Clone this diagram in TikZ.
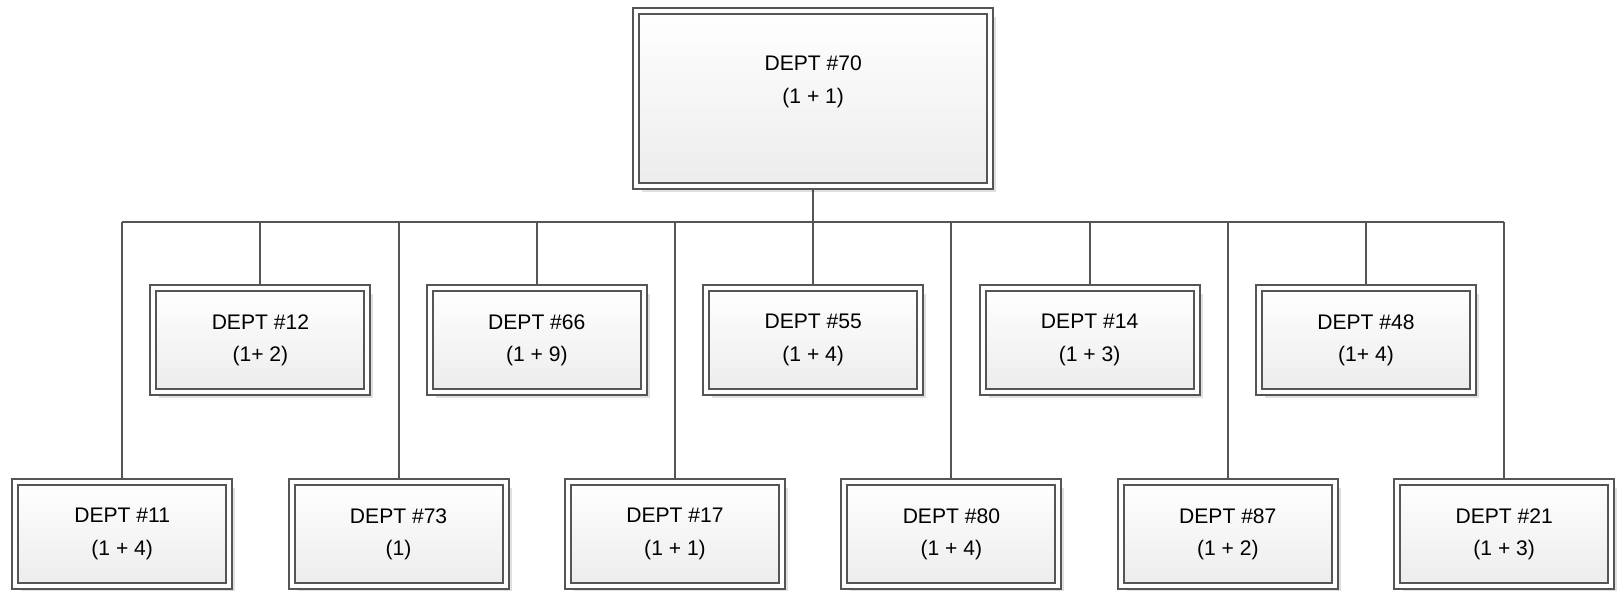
\documentclass[tikz,border=0pt]{standalone}
\usepackage{fontspec}
\setmainfont{Liberation Sans}
\usepackage{tikz}
\usetikzlibrary{shadows}
\usetikzlibrary{backgrounds}
\usetikzlibrary{calc}
\definecolor{boxline}{RGB}{85,85,85}
\definecolor{boxlow}{RGB}{236,236,236}
\tikzset{dept/.style={draw=boxline, line width=0.05cm, double=white, double distance=0.1cm, top color=white, bottom color=boxlow, drop shadow={shadow xshift=0.15cm, shadow yshift=-0.15cm, fill=black, opacity=0.12}, align=center, font=\fontsize{15}{23}\selectfont, minimum width=5.35cm, minimum height=2.62cm, inner sep=0pt},
link/.style={draw=boxline, line width=0.05cm}}

\begin{document}
\begin{tikzpicture}
    \useasboundingbox (0,0) rectangle (40.5,-14.75);
    \node (d70) [dept, minimum width=8.86cm, minimum height=4.36cm] at (20.33,-2.46) {DEPT \#70\\(1 + 1)\\[3.5pt]};
    \node (d55) [dept, below of=d70, node distance=6.04cm] {DEPT \#55\\(1 + 4)};
    \node (d66) [dept, left of=d55, node distance=6.91cm] {DEPT \#66\\(1 + 9)};
    \node (d12) [dept, left of=d66, node distance=6.91cm] {DEPT \#12\\(1+ 2)};
    \node (d14) [dept, right of=d55, node distance=6.91cm] {DEPT \#14\\(1 + 3)};
    \node (d48) [dept, right of=d14, node distance=6.91cm] {DEPT \#48\\(1+ 4)};

    \node (d17) [dept, below of=d55, node distance=4.85cm, xshift=-3.455cm] {DEPT \#17\\(1 + 1)};
    \node (d73) [dept, left of=d17, node distance=6.91cm] {DEPT \#73\\(1)};
    \node (d11) [dept, left of=d73, node distance=6.91cm] {DEPT \#11\\(1 + 4)};
    \node (d80) [dept, right of=d17, node distance=6.91cm] {DEPT \#80\\(1 + 4)};
    \node (d87) [dept, right of=d80, node distance=6.91cm] {DEPT \#87\\(1 + 2)};
    \node (d21) [dept, right of=d87, node distance=6.91cm] {DEPT \#21\\(1 + 3)};

    \coordinate (bus) at (0,-5.55);
    \begin{pgfonlayer}{background}
    \draw[link] (d70.south) -- (d70 |- bus);
    \draw[link] (d11 |- bus) -- (d21 |- bus);
    \foreach \d in {d11,d12,d73,d66,d17,d55,d80,d14,d87,d48,d21}
        \draw[link] (\d.north) -- (\d |- bus);
    \end{pgfonlayer}
\end{tikzpicture}
\end{document}
